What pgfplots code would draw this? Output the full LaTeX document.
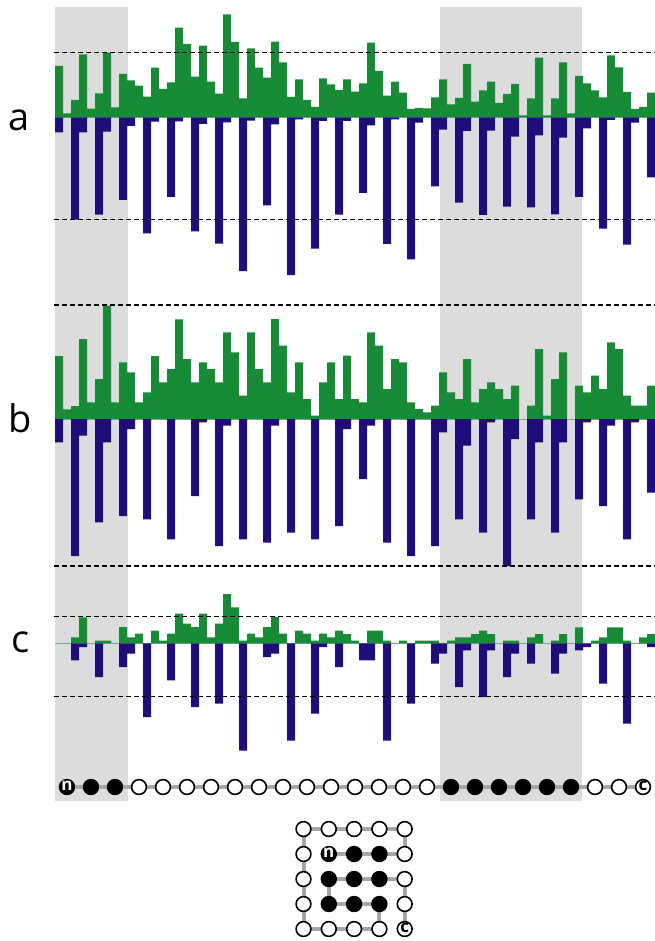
\documentclass[border=0pt]{standalone}
\usepackage{pgfplots}
\pgfplotsset{compat=1.18}
\usepackage{pgfplotstable}
\usepackage{fontspec}
\setmainfont{Open Sans}

\definecolor{upgreen}{HTML}{178B36}
\definecolor{downblue}{HTML}{1F0E7A}
\definecolor{shade}{HTML}{DCDCDC}
\definecolor{bond}{HTML}{A6A6A6}

% per-bar heights: k = bar index, g = upward (green) value, d = downward (blue) value
% the row k=75 only closes the last step
\pgfplotstableread{
k g d
0 51.3 15
1 4 0
2 17.3 102.3
3 63 15
4 8.7 0
5 24 97.3
6 64.7 14.3
7 10 0
8 43.3 82.7
9 37 8.7
10 31.7 0
11 20.7 116
12 49.7 4.3
13 28.3 0
14 35 79.7
15 89.7 4
16 73.3 0
17 40.7 114
18 71.7 6.7
19 35.7 0
20 23.7 126.3
21 103 5
22 75.3 0
23 19 153.7
24 69 3.3
25 49.7 0
26 39.7 88
27 75.7 7
28 55 0
29 20.3 157.7
30 38 2
31 17.3 0
32 10.3 131.3
33 39 3.7
34 33 0
35 27.3 97.3
36 38 3.7
37 25.7 0
38 34 75.7
39 74.7 8
40 46.3 0
41 21.7 126.7
42 35.7 2
43 24.7 0
44 8.3 142
45 9.3 5.3
46 9 0
47 20 69
48 38 12.3
49 13 0
50 19.3 85.3
51 53.3 13.7
52 15.7 0
53 27 97.7
54 35.7 13.3
55 14.3 0
56 23.3 89.3
57 33.3 19.3
58 2 0
59 19 90
60 59.7 18
61 2 0
62 19 97
63 55 20.3
64 4 0
65 41.3 79.7
66 34 11
67 27 0
68 20 111.3
69 62 2.7
70 50 0
71 25.3 127.3
72 8.3 5.3
73 10.3 0
74 24.7 60
75 24.7 60
}\tabA

\pgfplotstableread{
k g d
0 63 23.3
1 9.7 0
2 13 137
3 80 16.7
4 16.7 0
5 40 103.3
6 113.3 23.3
7 16.7 0
8 56.7 97
9 46.7 10
10 16.7 0
11 26.7 100.3
12 63 0
13 36.7 0
14 50 120.3
15 99.7 0
16 60 0
17 36.7 77
18 56.7 3.3
19 50 0
20 36.7 127
21 86.7 6.7
22 66.7 0
23 23.3 120.3
24 86.7 0
25 50 0
26 36.7 123.7
27 100 6.7
28 73.3 0
29 26.7 113.7
30 56.7 0
31 20 0
32 3.3 120.3
33 36.7 0
34 56.7 0
35 20 107
36 63.3 10
37 20 0
38 16.7 60
39 86.7 6.7
40 73.3 0
41 30 123.7
42 60 0
43 56.7 0
44 16.7 137
45 10 0
46 6.7 0
47 13.3 127
48 46.7 13.3
49 26.7 0
50 20 100.3
51 60 26.7
52 16.7 0
53 30 113.7
54 36.7 3.3
55 30 0
56 20 147
57 33.3 20
58 0 0
59 13.3 100.3
60 70 23.3
61 3.3 0
62 40 113.7
63 66.7 23.3
64 0 0
65 33.3 80.3
66 26.7 3.3
67 43.3 0
68 30 87
69 76.7 6.7
70 70 0
71 23.3 120.3
72 13.3 3.3
73 13.3 0
74 33.3 73.7
75 33.3 73.7
}\tabB

\pgfplotstableread{
k g d
0 0 0
1 0 0
2 6 17
3 26 3.7
4 0 0
5 2.7 33.7
6 2.7 0
7 0 0
8 16.3 23.7
9 6 10.3
10 9.7 0
11 0 73.7
12 12.7 0
13 2.7 0
14 9.7 37
15 29.7 0
16 19.7 0
17 16.3 63.7
18 29.7 0
19 6 0
20 19.7 60.3
21 49.3 0
22 36 0
23 2.7 107.3
24 9.7 0
25 6 0
26 16.3 13.7
27 26.3 10.3
28 9.7 0
29 0 97.3
30 12.7 0
31 9.7 0
32 2.7 70.3
33 9.7 3.7
34 6 0
35 12.7 23.7
36 9.3 0
37 2.7 0
38 0 17
39 12.7 17
40 12.7 0
41 2.7 97.3
42 0 0
43 2.7 0
44 0 60.3
45 2.7 0
46 2.7 0
47 2.7 20.3
48 0 10.3
49 2.7 0
50 6 43.7
51 6 7
52 9.3 0
53 12.7 53.7
54 9.3 7
55 0 0
56 2.7 33.7
57 2.7 10.3
58 0 0
59 6 20.3
60 9.3 0
61 0 0
62 2.7 30.3
63 9.3 10.3
64 0 0
65 16 7
66 0 3.7
67 2.7 0
68 6 40.3
69 16 0
70 16 0
71 2.7 80.3
72 0 0
73 6 0
74 9.3 3.7
75 9.3 3.7
}\tabC

\pgfplotsset{
  panel/.style={hide axis, clip=false, scale only axis,
    x=8pt, y=1pt, xmin=0, xmax=75, anchor=south west},
  up/.style={const plot, fill=upgreen, draw=none},
  down/.style={const plot, fill=downblue, draw=none},
  guide/.style={black, line width=1.2pt, dash pattern=on 5pt off 3pt},
  zero/.style={upgreen!45, line width=0.4pt},
  opensite/.style={only marks, mark=*, mark size=7.4pt,
    mark options={draw=black, fill=white, line width=1.6pt}},
  fullsite/.style={only marks, mark=*, mark size=7.4pt,
    mark options={draw=black, fill=black, line width=1.6pt}},
}

\newcommand{\panellabel}[3]{%
  \node[anchor=base, font=\fontsize{38}{38}\selectfont] at (#1pt,-#2pt) {#3};}

\begin{document}
\begin{tikzpicture}
\useasboundingbox (0,0) rectangle (654pt,-941pt);

% page-wide frame: shaded segments (pixel-like units, y downward)
\begin{axis}[hide axis, clip=false, scale only axis, x=1pt, y=1pt,
  xmin=0, xmax=654, ymin=0, ymax=941, y dir=reverse,
  at={(0,0)}, anchor=north west]
  \addplot[fill=shade, draw=none] coordinates {(55,7) (127.5,7) (127.5,801) (55,801)} -- cycle;
  \addplot[fill=shade, draw=none] coordinates {(440,7) (581.5,7) (581.5,801) (440,801)} -- cycle;
\end{axis}

% panel a
\begin{axis}[panel, ymin=-170, ymax=110, at={(55pt,-287.3pt)}]
  \addplot[zero] coordinates {(0,0) (75,0)};
  \addplot[up] table[x=k, y=g] {\tabA} \closedcycle;
  \addplot[down] table[x=k, y expr=-\thisrow{d}] {\tabA} \closedcycle;
  \addplot[guide] coordinates {(-0.1,65) (75,65)};
  \addplot[guide] coordinates {(-0.1,-102.3) (75,-102.3)};
\end{axis}

% panel b
\begin{axis}[panel, ymin=-160, ymax=120, at={(55pt,-579pt)}]
  \addplot[zero] coordinates {(0,0) (75,0)};
  \addplot[up] table[x=k, y=g] {\tabB} \closedcycle;
  \addplot[down] table[x=k, y expr=-\thisrow{d}] {\tabB} \closedcycle;
  \addplot[guide] coordinates {(-0.1,114) (75,114)};
  \addplot[guide] coordinates {(-0.1,-147) (75,-147)};
\end{axis}

% panel c
\begin{axis}[panel, ymin=-115, ymax=55, at={(55pt,-758.3pt)}]
  \addplot[zero] coordinates {(0,0) (75,0)};
  \addplot[up] table[x=k, y=g] {\tabC} \closedcycle;
  \addplot[down] table[x=k, y expr=-\thisrow{d}] {\tabC} \closedcycle;
  \addplot[guide] coordinates {(-0.1,26.7) (75,26.7)};
  \addplot[guide] coordinates {(-0.1,-53.3) (75,-53.3)};
\end{axis}

% residue chain and its folded lattice
\begin{axis}[hide axis, clip=false, scale only axis, x=1pt, y=1pt,
  xmin=0, xmax=654, ymin=0, ymax=941, y dir=reverse,
  at={(0,0)}, anchor=north west]
  % linear chain
  \addplot[bond, line width=4pt] coordinates {(67,787) (643,787)};
  \addplot[opensite] coordinates {
    (139,787) (163,787) (187,787) (211,787) (235,787) (259,787) (283,787)
    (307,787) (331,787) (355,787) (379,787) (403,787) (427,787)
    (595,787) (619,787) (643,787)};
  \addplot[fullsite] coordinates {
    (67,787) (91,787) (115,787)
    (451,787) (475,787) (499,787) (523,787) (547,787) (571,787)};
  \coordinate (chainN) at (axis cs:67,786);
  \coordinate (chainC) at (axis cs:643,786);
  % folded chain on the 5x5 lattice
  \addplot[bond, line width=4pt, line join=round] coordinates {
    (328.8,854) (354.1,854) (379.4,854) (404.7,854) (404.7,829) (379.4,829)
    (354.1,829) (328.8,829) (303.5,829) (303.5,854) (303.5,879) (303.5,904)
    (303.5,929) (328.8,929) (354.1,929) (379.4,929) (379.4,904) (354.1,904)
    (328.8,904) (328.8,879) (354.1,879) (379.4,879) (404.7,879) (404.7,904)
    (404.7,929)};
  \addplot[opensite] coordinates {
    (404.7,854) (404.7,829) (379.4,829) (354.1,829) (328.8,829) (303.5,829)
    (303.5,854) (303.5,879) (303.5,904) (303.5,929) (328.8,929) (354.1,929)
    (379.4,929) (404.7,879) (404.7,904) (404.7,929)};
  \addplot[fullsite] coordinates {
    (328.8,854) (354.1,854) (379.4,854) (379.4,904) (354.1,904) (328.8,904)
    (328.8,879) (354.1,879) (379.4,879)};
  \coordinate (gridN) at (axis cs:328.8,853);
  \coordinate (gridC) at (axis cs:404.7,928);
\end{axis}

% terminus letters on top of the sites
\foreach \p/\t/\c in {chainN/n/white, gridN/n/white, chainC/c/black, gridC/c/black}
  \node[text=\c, inner sep=0pt, font=\bfseries\fontsize{17}{17}\selectfont] at (\p) {\t};

\panellabel{19.2}{131}{a}
\panellabel{19.8}{432}{b}
\panellabel{20.3}{652}{c}
\end{tikzpicture}
\end{document}
